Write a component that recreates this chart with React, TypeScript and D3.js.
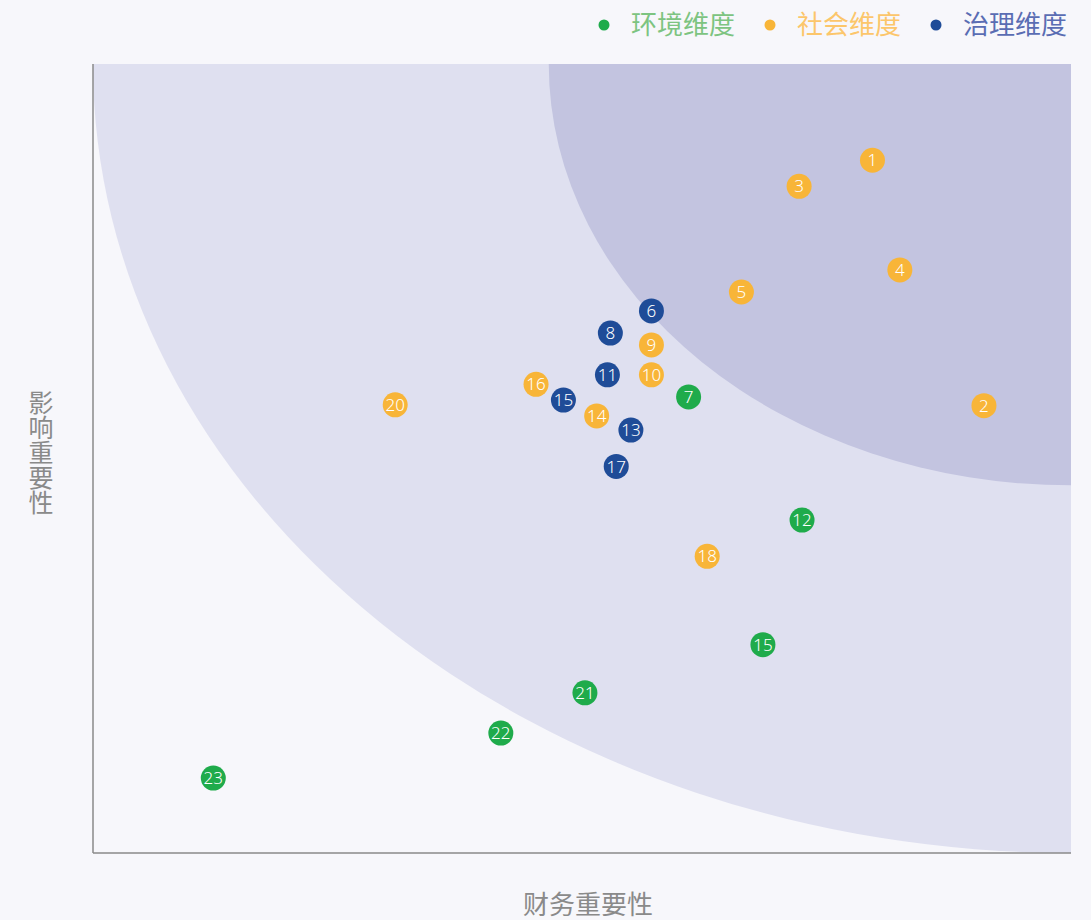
import * as d3 from "d3";

// dimension: 0 = 环境, 1 = 社会, 2 = 治理
const labels = ["1", "3", "4", "5", "2", "6", "8", "9", "11", "10", "16", "7", "15", "20", "14", "13", "17", "12", "18", "15", "21", "22", "23"];
const financial = [79.7, 72.2, 82.5, 66.3, 91.1, 57.1, 52.9, 57.1, 52.6, 57.1, 45.3, 60.9, 48.1, 30.9, 51.5, 55.0, 53.5, 72.5, 62.8, 68.5, 50.3, 41.7, 12.3];
const impact = [87.8, 84.5, 73.9, 71.1, 56.7, 68.7, 65.9, 64.4, 60.6, 60.6, 59.4, 57.8, 57.4, 56.8, 55.4, 53.6, 49.0, 42.2, 37.6, 26.4, 20.3, 15.2, 9.5];
const dimension = [1, 1, 1, 1, 1, 2, 2, 1, 2, 1, 1, 0, 2, 1, 1, 2, 2, 0, 1, 0, 0, 0, 0];

const legendNames = ["环境维度", "社会维度", "治理维度"];
const dotColors = ["#1fab4b", "#f8b538", "#1f4c98"];
const textColors = ["#7dc481", "#fcc66b", "#5a6db3"];

// radii of the two materiality zones, measured from the top-right corner
const zoneRadii = [100, 53.4];
const zoneColors = ["#dfe0f0", "#c3c4e0"];

const width = 1091;
const height = 920;
const margin = { top: 64, right: 20, bottom: 67, left: 93 };

export default function App() {
  const x = d3.scaleLinear().domain([0, 100]).range([margin.left, width - margin.right]);
  const y = d3.scaleLinear().domain([0, 100]).range([height - margin.bottom, margin.top]);
  const [x0, x1] = x.range();
  const [y0, y1] = y.range();

  return (
    <svg
      width={width}
      height={height}
      style={{ position: "absolute", left: 0, top: 0, background: "#f7f7fb" }}
      fontFamily="'Noto Sans CJK SC', 'Noto Sans', sans-serif"
    >
      <defs>
        <clipPath id="plot">
          <rect x={x0} y={y1} width={x1 - x0} height={y0 - y1} />
        </clipPath>
      </defs>
      <g clipPath="url(#plot)">
        {zoneRadii.map((r, i) => (
          <ellipse
            key={i}
            cx={x(100)}
            cy={y(100)}
            rx={x(100) - x(100 - r)}
            ry={y(100 - r) - y(100)}
            fill={zoneColors[i]}
          />
        ))}
      </g>
      <line x1={x0} x2={x0} y1={y1} y2={y0} stroke="#8a8a8a" strokeWidth={1.5} />
      <line x1={x0} x2={x1} y1={y0} y2={y0} stroke="#8a8a8a" strokeWidth={1.5} />

      {labels.map((l, i) => (
        <g key={i} transform={`translate(${x(financial[i])},${y(impact[i])})`}>
          <circle r={12.5} fill={dotColors[dimension[i]]} />
          <text
            textAnchor="middle"
            dy="0.36em"
            fill="#fff"
            fontSize={17}
            fontFamily="'Noto Sans', sans-serif"
            fontWeight={300}
          >
            {l}
          </text>
        </g>
      ))}

      {legendNames.map((name, i) => (
        <g key={name} transform={`translate(${604 + i * 166},25)`}>
          <circle r={5.5} fill={dotColors[i]} />
          <text x={27} dy="0.36em" fontSize={26} fill={textColors[i]}>
            {name}
          </text>
        </g>
      ))}

      <text x={588} y={905} dy="0.36em" textAnchor="middle" fontSize={26} fill="#8a8a8a">
        财务重要性
      </text>
      <text
        x={41}
        y={390}
        fontSize={25}
        fill="#8a8a8a"
        style={{ writingMode: "vertical-rl", textOrientation: "upright" }}
      >
        影响重要性
      </text>
    </svg>
  );
}
